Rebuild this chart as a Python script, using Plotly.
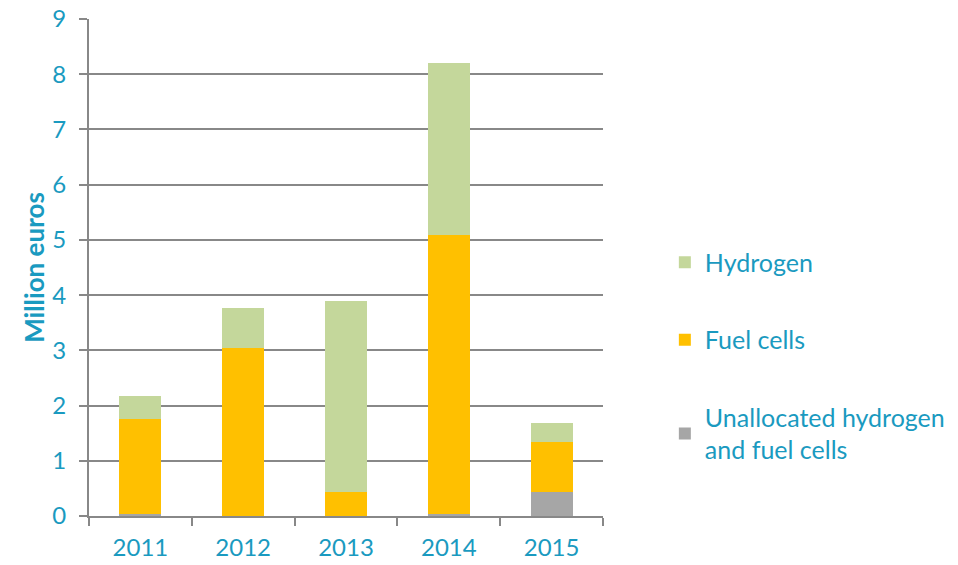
import plotly.graph_objects as go

years = ["2011", "2012", "2013", "2014", "2015"]
unallocated = [0.04, 0.0, 0.0, 0.03, 0.43]
fuel_cells = [1.72, 3.04, 0.44, 5.06, 0.91]
hydrogen = [0.41, 0.73, 3.45, 3.12, 0.35]

TEAL = "#1A9AC0"
GRID = "#888888"
FONT = "Lato, 'Open Sans', sans-serif"

fig = go.Figure()
fig.add_trace(go.Bar(x=years, y=unallocated, name="Unallocated hydrogen<br>and fuel cells",
                     marker=dict(color="#A6A6A6", line=dict(width=0)), legendgroup="u", legendrank=3))
fig.add_trace(go.Bar(x=years, y=fuel_cells, name="Fuel cells",
                     marker=dict(color="#FFC000", line=dict(width=0)), legendgroup="f", legendrank=2))
fig.add_trace(go.Bar(x=years, y=hydrogen, name="Hydrogen",
                     marker=dict(color="#C4D79B", line=dict(width=0)), legendgroup="h", legendrank=1))

fig.update_layout(
    width=958, height=565,
    barmode="stack", bargap=0.59,
    plot_bgcolor="white", paper_bgcolor="white",
    margin=dict(l=89, r=355, t=19, b=49, autoexpand=False),
    font=dict(family=FONT, color=TEAL, size=24),
    showlegend=True,
    legend=dict(
        xref="container", yref="container",
        x=0.694, xanchor="left", y=0.37, yanchor="middle",
        traceorder="grouped", tracegroupgap=42,
        font=dict(family=FONT, size=25, color=TEAL),
        itemwidth=30, bgcolor="rgba(0,0,0,0)",
    ),
    xaxis=dict(
        type="category", showline=True, linecolor=GRID, linewidth=2, automargin=False,
        ticks="outside", tickson="boundaries", ticklen=8, tickwidth=2, tickcolor=GRID,
        tickfont=dict(family=FONT, size=24, color=TEAL), ticklabelstandoff=9,
        showgrid=False,
    ),
    yaxis=dict(
        range=[0, 9], dtick=1, showline=True, linecolor=GRID, linewidth=2, automargin=False,
        ticks="outside", ticklen=8, tickwidth=2, tickcolor=GRID,
        showgrid=True, gridcolor=GRID, gridwidth=2,
        zeroline=False, ticklabelstandoff=8,
        tickfont=dict(family=FONT, size=24, color=TEAL),
        title=dict(text="<b>Million euros</b>", font=dict(family=FONT, size=26, color=TEAL), standoff=0),
    ),
)

fig.write_html("out.html", config={"displayModeBar": False},
               post_script="document.body.style.margin='0';")
